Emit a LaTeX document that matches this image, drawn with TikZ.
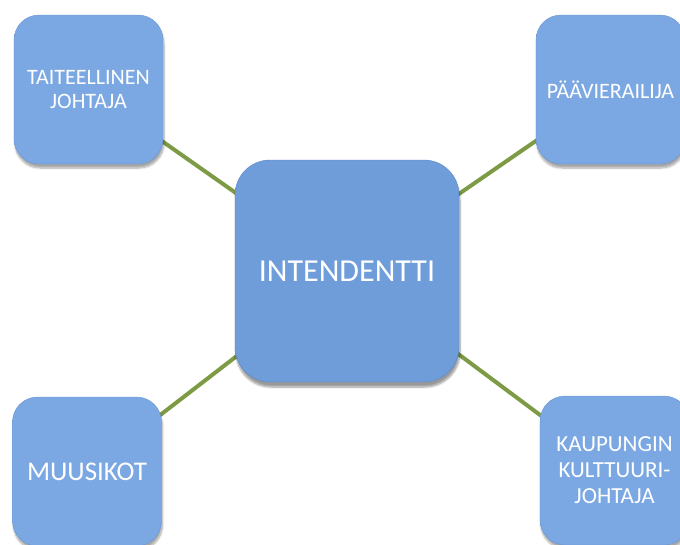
\documentclass[tikz,border=0pt]{standalone}
\usepackage{fontspec}
\setmainfont{Carlito}
\usetikzlibrary{backgrounds,shadows.blur}
\definecolor{boxblue}{HTML}{7BA8E3}
\definecolor{boxtop}{HTML}{A6C6F0}
\definecolor{boxbot}{HTML}{6A96D2}
\definecolor{cenblue}{HTML}{6E9DD9}
\definecolor{centop}{HTML}{9BBDEC}
\definecolor{cenbot}{HTML}{5E88C4}
\definecolor{linkgreen}{HTML}{7D9A45}
\pgfdeclareverticalshading{smallbevel}{100bp}{color(0bp)=(boxbot); color(7bp)=(boxblue); color(90bp)=(boxblue); color(97bp)=(boxtop); color(100bp)=(boxtop)}
\pgfdeclareverticalshading{bigbevel}{100bp}{color(0bp)=(cenbot); color(6bp)=(cenblue); color(91bp)=(cenblue); color(97bp)=(centop); color(100bp)=(centop)}
\tikzset{
  smallbox/.style={rounded corners=25pt, minimum width=149pt, minimum height=149pt,
    inner sep=0pt, align=center, text=white, font=\fontsize{22}{23.5}\selectfont,
    shading=smallbevel, draw=boxbot, line width=0.4pt,
    blur shadow={shadow xshift=1pt, shadow yshift=-4pt, shadow opacity=35, shadow blur steps=8}},
  bigbox/.style={rounded corners=35pt, minimum width=224pt, minimum height=222pt,
    inner sep=0pt, align=center, text=white, font=\fontsize{32}{36}\selectfont,
    shading=bigbevel, draw=cenbot, line width=0.4pt,
    blur shadow={shadow xshift=1pt, shadow yshift=-5pt, shadow opacity=40, shadow blur steps=8}},
  link/.style={draw=linkgreen, line width=4pt}
}
\begin{document}
\begin{tikzpicture}[x=1pt,y=-1pt]
\useasboundingbox (0,0) rectangle (680,544);
\clip (0,0) rectangle (680,544);
\node[bigbox] (c) at (347,271) {INTENDENTTI};
\node[smallbox] (tl) at (88.5,89.5) {TAITEELLINEN\\JOHTAJA};
\node[smallbox, font=\fontsize{22}{25}\selectfont] (tr) at (610.5,89.5) {PÄÄVIERAILIJA};
\node[smallbox, font=\fontsize{27}{30}\selectfont] (bl) at (87,471.5) {MUUSIKOT};
\node[smallbox, font=\fontsize{23}{26}\selectfont] (br) at (614.5,470.5) {KAUPUNGIN\\KULTTUURI-\\JOHTAJA};
\begin{scope}[on background layer]
\draw[link] (c.center) -- (tl.center);
\draw[link] (c.center) -- (tr.center);
\draw[link] (c.center) -- (bl.center);
\draw[link] (c.center) -- (br.center);
\end{scope}
\end{tikzpicture}
\end{document}
